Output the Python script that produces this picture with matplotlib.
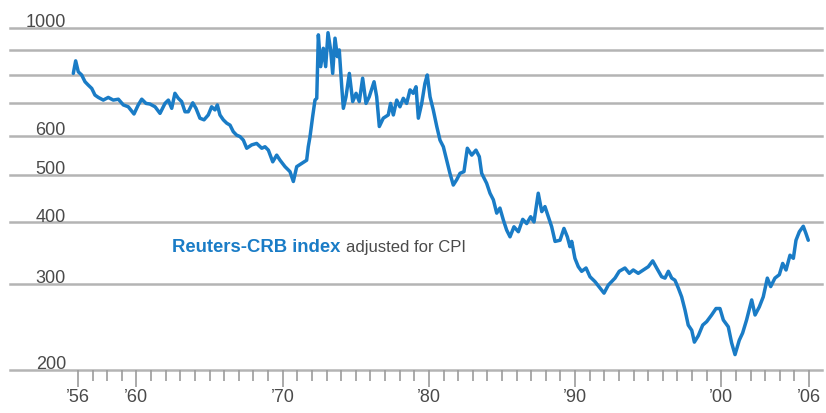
import matplotlib
matplotlib.use('Agg')
import matplotlib.pyplot as plt
from matplotlib.ticker import NullLocator, FixedLocator
from matplotlib.transforms import blended_transform_factory

# ---- data ----
years = [1955.68, 1955.84, 1956.02, 1956.25, 1956.48, 1956.70, 1956.94, 1957.16, 1957.39, 1957.73,
         1958.07, 1958.41, 1958.76, 1959.10, 1959.44, 1959.83, 1960.12, 1960.36, 1960.65, 1960.92,
         1961.27, 1961.61, 1961.95, 1962.18, 1962.41, 1962.63, 1962.86, 1963.09, 1963.32, 1963.54,
         1963.85, 1964.07, 1964.34, 1964.62, 1964.91, 1965.14, 1965.37, 1965.53, 1965.71, 1965.94,
         1966.17, 1966.40, 1966.62, 1966.85, 1967.08, 1967.31, 1967.54, 1967.88, 1968.22, 1968.57,
         1968.79, 1969.02, 1969.32, 1969.59, 1969.82, 1970.16, 1970.50, 1970.73, 1970.96, 1971.30,
         1971.64, 1971.75, 1971.87, 1972.05, 1972.21, 1972.33, 1972.44, 1972.60, 1972.78, 1972.94,
         1973.10, 1973.28, 1973.42, 1973.58, 1973.74, 1973.87, 1974.04, 1974.15, 1974.33, 1974.56,
         1974.79, 1975.02, 1975.24, 1975.47, 1975.70, 1975.92, 1976.25, 1976.43, 1976.61, 1976.88,
         1977.22, 1977.38, 1977.57, 1977.80, 1978.02, 1978.25, 1978.48, 1978.71, 1978.93, 1979.12,
         1979.28, 1979.51, 1979.73, 1979.89, 1980.08, 1980.30, 1980.54, 1980.76, 1980.99, 1981.22,
         1981.44, 1981.67, 1981.90, 1982.13, 1982.40, 1982.63, 1982.93, 1983.22, 1983.45, 1983.61,
         1983.95, 1984.18, 1984.41, 1984.64, 1984.86, 1985.09, 1985.32, 1985.55, 1985.82, 1986.12,
         1986.42, 1986.69, 1986.96, 1987.19, 1987.48, 1987.72, 1987.94, 1988.17, 1988.40, 1988.63,
         1988.97, 1989.24, 1989.47, 1989.65, 1989.77, 1989.99, 1990.22, 1990.45, 1990.75, 1991.02,
         1991.36, 1991.70, 1991.98, 1992.27, 1992.50, 1992.73, 1993.02, 1993.41, 1993.71, 1993.98,
         1994.32, 1994.67, 1995.01, 1995.31, 1995.58, 1995.92, 1996.15, 1996.38, 1996.61, 1996.83,
         1997.06, 1997.29, 1997.52, 1997.74, 1997.98, 1998.16, 1998.43, 1998.73, 1999.00, 1999.34,
         1999.64, 1999.91, 2000.14, 2000.48, 2000.71, 2000.94, 2001.23, 2001.46, 2001.73, 2002.08,
         2002.31, 2002.60, 2002.87, 2003.15, 2003.38, 2003.67, 2003.97, 2004.20, 2004.43, 2004.70,
         2004.93, 2005.11, 2005.34, 2005.61, 2005.79, 2005.95]
values = [806, 855, 812, 800, 775, 763, 751, 728, 720, 711,
          720, 711, 714, 695, 689, 666, 695, 714, 700, 698,
          689, 668, 700, 711, 684, 734, 717, 706, 673, 673,
          702, 684, 653, 648, 663, 689, 679, 695, 663, 648,
          638, 632, 613, 603, 599, 589, 567, 576, 580, 567,
          571, 562, 532, 549, 536, 520, 508, 485, 520, 528,
          536, 571, 599, 658, 711, 717, 966, 832, 907, 832,
          976, 900, 806, 951, 872, 900, 757, 684, 722, 806,
          706, 734, 706, 788, 700, 722, 775, 722, 628, 653,
          663, 700, 663, 711, 689, 717, 700, 746, 734, 757,
          653, 700, 769, 800, 722, 679, 628, 589, 571, 536,
          504, 477, 489, 504, 508, 567, 549, 562, 545, 504,
          481, 459, 445, 418, 428, 405, 386, 374, 392, 383,
          406, 398, 411, 401, 459, 421, 431, 411, 392, 366,
          368, 389, 374, 357, 366, 338, 325, 318, 323, 310,
          303, 294, 287, 298, 303, 308, 318, 323, 315, 320,
          315, 320, 325, 334, 323, 310, 308, 318, 308, 305,
          294, 282, 265, 247, 241, 228, 235, 247, 251, 259,
          267, 267, 253, 245, 227, 215, 230, 238, 253, 278,
          259, 269, 282, 308, 296, 308, 313, 330, 320, 343,
          338, 368, 383, 393, 380, 368]

grid_values = [200, 300, 400, 500, 600, 700, 800, 900, 1000]
ytick_values = [200, 300, 400, 500, 600, 1000]
ytick_labels = ['200', '300', '400', '500', '600', '1000']
major_years = [1956, 1960, 1970, 1980, 1990, 2000, 2006]
major_labels = ['\u201956', '\u201960', '\u201970', '\u201980', '\u201990', '\u201900', '\u201906']
minor_years = list(range(1956, 2007))
caption_bold = 'Reuters-CRB index'
caption_rest = 'adjusted for CPI'

# ---- style ----
plt.rcParams['font.family'] = ['Liberation Sans', 'DejaVu Sans']
BLUE = '#1a7cc6'
GRID = '#b4b4b4'
TEXT = '#4a4a4a'
TICK = '#9c9c9c'

W, H = 826, 413
fig = plt.figure(figsize=(W / 100, H / 100), dpi=100)
left_px, right_px = 10, 822
bottom_px, top_px = 370, 15
ax = fig.add_axes([left_px / W, (H - bottom_px) / H,
                   (right_px - left_px) / W, (bottom_px - top_px) / H])
ax.set_yscale('log')
px_per_year = (809 - 78) / 50
ax.set_xlim(1956 - (78 - left_px) / px_per_year, 2006 + (right_px - 809) / px_per_year)
ax.set_ylim(200, 200 * 10 ** ((bottom_px - top_px) / 490))
for s in ax.spines.values():
    s.set_visible(False)

ax.yaxis.set_major_locator(NullLocator())
ax.yaxis.set_minor_locator(NullLocator())
ax.xaxis.set_major_locator(FixedLocator(major_years))
ax.xaxis.set_minor_locator(FixedLocator([y for y in minor_years if y not in major_years]))
ax.set_xticklabels(major_labels)
ax.tick_params(axis='x', which='major', length=12.5, width=1.2, color=TICK,
               labelsize=13, labelcolor=TEXT, pad=1.5)
ax.tick_params(axis='x', which='minor', length=8, width=1.2, color=TICK)

for v in grid_values:
    ax.axhline(v, color=GRID, lw=1.8, zorder=1, clip_on=False)

trans = blended_transform_factory(ax.transAxes, ax.transData)
xlab = (66 - left_px) / (right_px - left_px)
for v, lab in zip(ytick_values, ytick_labels):
    ax.text(xlab, v * 1.004, lab, transform=trans, ha='right', va='baseline',
            fontsize=13, color=TEXT, zorder=2)

ax.plot(years, values, color=BLUE, lw=2.5, zorder=3, solid_joinstyle='round',
        solid_capstyle='round')

t1 = ax.text(1962.45, 355, caption_bold, ha='left', va='center', fontsize=13.3,
             fontweight='bold', color=BLUE, zorder=4)
ax.annotate(caption_rest, xy=(1, 0.5), xycoords=t1, xytext=(3.5, 0),
            textcoords='offset points', ha='left', va='center', fontsize=12,
            color=TEXT, zorder=4)

fig.savefig('out.png', dpi=100)
